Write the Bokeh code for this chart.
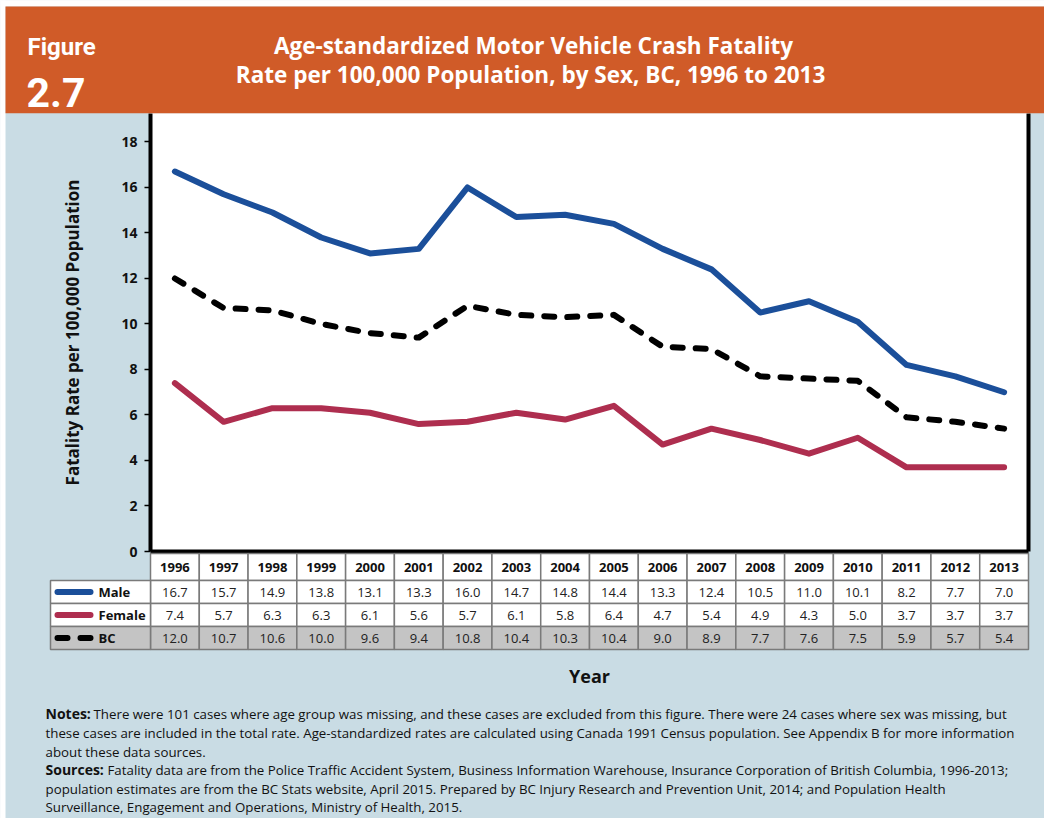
from bokeh.plotting import figure
from bokeh.models import Range1d, FixedTicker, LinearAxis
from bokeh.embed import file_html
from bokeh.resources import INLINE
from bokeh.core.properties import value

# ---------------- data ----------------
years = list(range(1996, 2014))
male = [16.7, 15.7, 14.9, 13.8, 13.1, 13.3, 16.0, 14.7, 14.8, 14.4, 13.3, 12.4, 10.5, 11.0, 10.1, 8.2, 7.7, 7.0]
female = [7.4, 5.7, 6.3, 6.3, 6.1, 5.6, 5.7, 6.1, 5.8, 6.4, 4.7, 5.4, 4.9, 4.3, 5.0, 3.7, 3.7, 3.7]
bc = [12.0, 10.7, 10.6, 10.0, 9.6, 9.4, 10.8, 10.4, 10.3, 10.4, 9.0, 8.9, 7.7, 7.6, 7.5, 5.9, 5.7, 5.4]
series_names = ["Male", "Female", "BC"]
y_ticks = [0, 2, 4, 6, 8, 10, 12, 14, 16, 18]

fig_label = "Figure"
fig_number = "2.7"
title_lines = ["Age-standardized Motor Vehicle Crash Fatality",
               "Rate  per 100,000 Population, by Sex, BC, 1996 to 2013"]
y_title = "Fatality Rate per 100,000 Population"
x_title = "Year"
notes_bold = ["Notes:", "Sources:"]
notes_lines = [
    "There were 101 cases where age group was missing, and these cases are excluded from this figure. There were 24 cases where sex was missing, but",
    "these cases are included in the total rate. Age-standardized rates are calculated using Canada 1991 Census population. See Appendix B for more information",
    "about these data sources.",
    "Fatality data are from the Police Traffic Accident System, Business Information Warehouse, Insurance Corporation of British Columbia, 1996-2013;",
    "population estimates are from the BC Stats website, April 2015. Prepared by BC Injury Research and Prevention Unit, 2014; and Population Health",
    "Surveillance, Engagement and Operations, Ministry of Health, 2015.",
]

# ---------------- style ----------------
FONT = "Open Sans"
HEAD_FONT = "Roboto"
ORANGE = "#D05B28"
BG = "#C9DCE4"
MALE_C = "#1B4F9A"
FEMALE_C = "#AE2E4F"
BC_C = "#000000"
GRID_C = "#7a7a7a"
GRAY_ROW = "#c4c4c4"
TXT = "#111111"
colors = [MALE_C, FEMALE_C, BC_C]

W, H = 1044, 818
p = figure(width=W, height=H, output_backend="svg", toolbar_location=None,
           x_range=Range1d(years[0] - 0.5, years[-1] + 0.5), y_range=Range1d(0, 19.25),
           min_border_left=150, min_border_right=16, min_border_top=113, min_border_bottom=267)
p.background_fill_color = "white"
p.border_fill_color = BG
p.outline_line_color = None
p.xgrid.visible = False
p.ygrid.visible = False

# page-pixel helper ranges (layout only)
p.extra_x_ranges = {"px": Range1d(150, 1028)}
p.extra_y_ranges = {"px": Range1d(551, 113)}

# y axis
ya = p.yaxis[0]
ya.ticker = FixedTicker(ticks=y_ticks)
ya.axis_line_width = 4
ya.axis_line_color = "black"
ya.major_tick_out = 6
ya.major_tick_in = 0
ya.major_tick_line_width = 1.5
ya.minor_tick_line_color = None
ya.major_label_standoff = 7
ya.major_label_text_font = FONT
ya.major_label_text_font_style = "bold"
ya.major_label_text_font_size = "14px"
ya.major_label_text_color = TXT
ya.axis_label = y_title
ya.axis_label_text_font = FONT
ya.axis_label_text_font_style = "bold"
ya.axis_label_text_font_size = "17px"
ya.axis_label_text_color = TXT
ya.axis_label_standoff = 34

# x axis: line + title only; the year labels form the table header row
xa = p.xaxis[0]
xa.ticker = FixedTicker(ticks=[])
xa.axis_line_width = 4
xa.axis_line_color = "black"
xa.major_tick_line_color = None
xa.minor_tick_line_color = None
xa.major_label_standoff = 0
xa.axis_label = x_title
xa.axis_label_text_font = FONT
xa.axis_label_text_font_style = "bold"
xa.axis_label_text_font_size = "18px"
xa.axis_label_text_color = TXT
xa.axis_label_standoff = 112

# right border
ra = LinearAxis(ticker=FixedTicker(ticks=[]), axis_line_width=4, axis_line_color="black",
                major_tick_line_color=None, minor_tick_line_color=None,
                major_label_text_font_size="0px", major_label_standoff=0)
p.add_layout(ra, "right")

# ---------------- data lines ----------------
p.line(years, male, line_color=MALE_C, line_width=6, line_join="round", line_cap="round")
p.line(years, female, line_color=FEMALE_C, line_width=6, line_join="round", line_cap="round")
p.line(years, bc, line_color=BC_C, line_width=6, line_join="round", line_cap="round", line_dash="10 13")

OV = dict(x_range_name="px", y_range_name="px", level="overlay")

# ---------------- page edge + header ----------------
p.quad(left=[0, 0], right=[1060, 5], top=[0, 0], bottom=[6, 834], fill_color="white", line_color=None, **OV)
p.quad(left=[5], right=[1060], top=[6], bottom=[112.7], fill_color=ORANGE, line_color=None, **OV)
p.text(x=[27], y=[46], text=[fig_label], text_color="white", text_font=value(HEAD_FONT),
       text_font_style="bold", text_font_size="24px", text_baseline="alphabetic", **OV)
p.text(x=[26], y=[92], text=[fig_number], text_color="white", text_font=value(HEAD_FONT),
       text_font_style="bold", text_font_size="41px", text_baseline="alphabetic", **OV)
p.text(x=[533, 533], y=[45, 74], text=title_lines, text_color="white", text_font=value(FONT),
       text_font_style="bold", text_font_size="22.5px", text_align="center", text_baseline="middle", **OV)

# ---------------- table ----------------
row_top = [580, 603, 626]
row_bot = [603, 626, 649]
row_fill = ["white", "white", GRAY_ROW]
# header row cells (years)
p.quad(left=[y - 0.5 for y in years], right=[y + 0.5 for y in years],
       top=[553] * len(years), bottom=[580] * len(years),
       fill_color="white", line_color=GRID_C, line_width=1.5,
       x_range_name="default", y_range_name="px", level="overlay")
p.text(x=years, y=[567] * len(years), text=[str(y) for y in years],
       text_color=TXT, text_font=value(FONT), text_font_style="bold", text_font_size="13px",
       text_align="center", text_baseline="middle",
       x_range_name="default", y_range_name="px", level="overlay")
for r in range(3):
    p.quad(left=[y - 0.5 for y in years], right=[y + 0.5 for y in years],
           top=[row_top[r]] * len(years), bottom=[row_bot[r]] * len(years),
           fill_color=row_fill[r], line_color=GRID_C, line_width=1.5,
           x_range_name="default", y_range_name="px", level="overlay")
    p.quad(left=[50], right=[150], top=[row_top[r]], bottom=[row_bot[r]],
           fill_color=row_fill[r], line_color=GRID_C, line_width=1.5, **OV)

for r, vals in enumerate([male, female, bc]):
    yc = (row_top[r] + row_bot[r]) / 2
    p.text(x=years, y=[yc] * len(years), text=[f"{v:.1f}" for v in vals],
           text_color="#222222", text_font=value(FONT), text_font_size="13px",
           text_align="center", text_baseline="middle",
           x_range_name="default", y_range_name="px", level="overlay")
    # legend swatch
    if r < 2:
        p.line(x=[57, 90], y=[yc, yc], line_color=colors[r], line_width=6, line_cap="round", **OV)
    else:
        p.line(x=[57, 90], y=[yc, yc], line_color=colors[r], line_width=6, line_cap="round",
               line_dash="10 13", **OV)
    p.text(x=[98], y=[yc], text=[series_names[r]], text_color=TXT, text_font=value(FONT),
           text_font_style="bold", text_font_size="13px", text_baseline="middle", **OV)

# ---------------- notes ----------------
note_y = [713, 732, 751, 769, 788, 806.5]
note_x = [93, 45, 45, 107, 45, 45]
p.text(x=[45, 45], y=[note_y[0], note_y[3]], text=notes_bold, text_color=TXT,
       text_font=value(FONT), text_font_style="bold", text_font_size="14px",
       text_baseline="middle", **OV)
p.text(x=note_x, y=note_y, text=notes_lines, text_color=TXT,
       text_font=value(FONT), text_font_size="13.3px", text_baseline="middle", **OV)

open("out.html", "w").write(file_html(p, INLINE))
